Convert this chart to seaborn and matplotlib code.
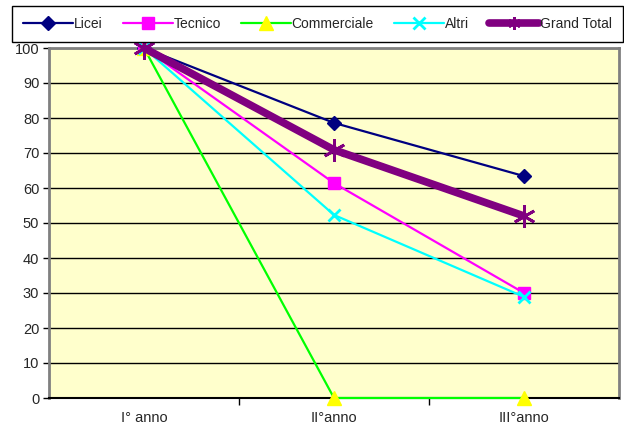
import pandas as pd
import seaborn as sns
import matplotlib.pyplot as plt
import numpy as np

# Data
anni = ["I° anno", "II°anno", "III°anno"]
licei = [100, 78.6, 63.4]
tecnico = [100, 61.4, 30.0]
commerciale = [100, 0, 0]
altri = [100, 52.3, 28.9]
grand_total = [100, 70.9, 52.0]

series = {
    "Licei": licei,
    "Tecnico": tecnico,
    "Commerciale": commerciale,
    "Altri": altri,
    "Grand Total": grand_total,
}

styles = {
    "Licei": dict(color="#000080", marker="D", lw=1.6, ms=7, mfc="#000080", mec="#000080"),
    "Tecnico": dict(color="#FF00FF", marker="s", lw=1.6, ms=9, mfc="#FF00FF", mec="#FF00FF"),
    "Commerciale": dict(color="#00FF00", marker="^", lw=1.6, ms=10, mfc="#FFFF00", mec="#FFFF00"),
    "Altri": dict(color="#00FFFF", marker="x", lw=1.6, ms=8, mfc="#00FFFF", mec="#00FFFF", mew=2),
    "Grand Total": dict(color="#800080", marker=(6, 2, 0), lw=5.5, ms=16, mfc="#800080", mec="#800080", mew=2),
}

sns.set_style("white")
plt.rcParams["font.family"] = ["Liberation Sans", "DejaVu Sans"]

fig = plt.figure(figsize=(6.24, 4.33), dpi=100)
ax = fig.add_axes([49 / 624, 35 / 433, 570 / 624, 350 / 433])
ax.set_facecolor("#FFFFCC")

for name, vals in series.items():
    df = pd.DataFrame({"anno": anni, "valore": vals})
    st = styles[name]
    sns.lineplot(data=df, x="anno", y="valore", ax=ax, label=name,
                 color=st["color"], marker=st["marker"], linewidth=st["lw"],
                 markersize=st["ms"], markerfacecolor=st["mfc"],
                 markeredgecolor=st["mec"], markeredgewidth=st.get("mew", 1),
                 clip_on=False, zorder=3)

ax.set_xlim(-0.5, 2.5)
ax.set_ylim(0, 100)
ax.set_yticks(np.arange(0, 101, 10))
ax.yaxis.grid(True, color="black", linewidth=1)
ax.set_axisbelow(True)
ax.set_xlabel("")
ax.set_ylabel("")
ax.set_xticks([0, 1, 2])
ax.set_xticklabels(anni)
ax.set_xticks([0.5, 1.5], minor=True)
ax.tick_params(axis="x", which="major", length=0, pad=9, labelsize=10.5)
ax.tick_params(axis="x", which="minor", length=5, width=1, color="black", direction="out")
ax.tick_params(axis="y", length=4, width=1, color="black", direction="out", labelsize=10.5, pad=3)
ax.yaxis.set_ticks_position("left")
ax.xaxis.set_ticks_position("bottom")

for side in ["left", "top", "right"]:
    ax.spines[side].set_color("#808080")
    ax.spines[side].set_linewidth(2)
ax.spines["bottom"].set_color("black")
ax.spines["bottom"].set_linewidth(1.5)

ax.get_legend().remove()
handles, labels = ax.get_legend_handles_labels()
leg = fig.legend(handles, labels, loc="upper left", ncol=5,
                 bbox_to_anchor=(12 / 624, 1 - 6 / 433),
                 frameon=True, fancybox=False, edgecolor="black", framealpha=1,
                 fontsize=10, handlelength=3.6, handletextpad=0.05,
                 columnspacing=1.45, borderaxespad=0, borderpad=0.8)
leg.get_frame().set_linewidth(1)
# smaller star in the Grand Total legend handle
leg.legend_handles[-1].set_markersize(9)

fig.savefig("out.png", dpi=100)
